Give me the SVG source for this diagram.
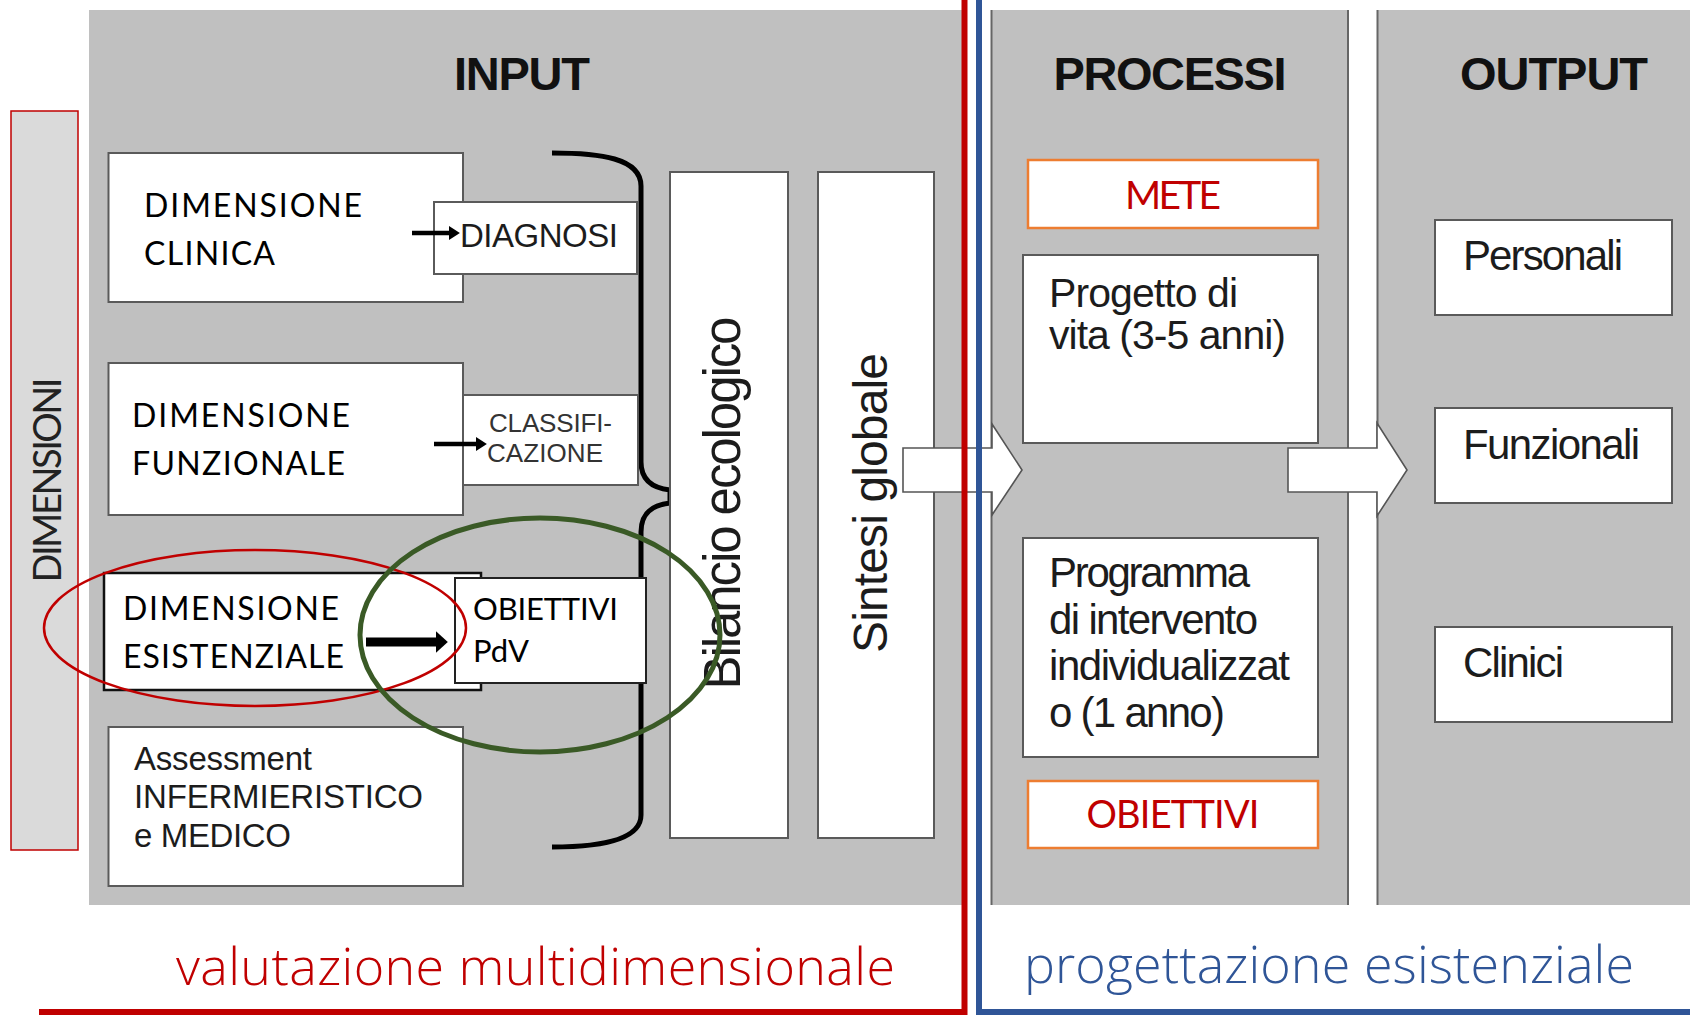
<svg xmlns="http://www.w3.org/2000/svg" width="1690" height="1018" viewBox="0 0 1690 1018">
<defs>
<style>
.panel{fill:#C0C0C0}
.pline{stroke:#666;stroke-width:2;fill:none}
.box{fill:#fff;stroke:#5a5a5a;stroke-width:2}
.obox{fill:#fff;stroke:#ED7D31;stroke-width:2.5}
.cal{font-family:Lato,"Open Sans","DejaVu Sans",sans-serif;fill:#000}
.red{fill:#C00000}
.ar{font-family:"Liberation Sans",Arial,sans-serif;fill:#1c1c1c}
.grey{fill:#333}
.title{font-family:"Liberation Sans",Arial,sans-serif;font-weight:bold;font-size:47px;fill:#111;text-anchor:middle}
.lbl{font-family:"Open Sans","Noto Sans",sans-serif;font-weight:300;font-size:52px}
.big{fill:#fff;stroke:#555;stroke-width:1.6}
</style>
<marker id="ah" viewBox="0 0 10 10" refX="1" refY="5" markerWidth="11" markerHeight="14" markerUnits="userSpaceOnUse" orient="auto" preserveAspectRatio="none"><path d="M0 0L10 5L0 10z" fill="#000"/></marker>
<marker id="ahb" viewBox="0 0 10 10" refX="1" refY="5" markerWidth="12" markerHeight="22" markerUnits="userSpaceOnUse" orient="auto" preserveAspectRatio="none"><path d="M0 0L10 5L0 10z" fill="#000"/></marker>
</defs>
<rect width="1690" height="1018" fill="#fff"/>
<g id="panels">
<rect class="panel" x="89" y="10" width="874" height="895"/>
<rect class="panel" x="991" y="10" width="357" height="895"/>
<rect class="panel" x="1377" y="10" width="313" height="895"/>
<line class="pline" x1="991.5" y1="10" x2="991.5" y2="905"/>
<line class="pline" x1="1348" y1="10" x2="1348" y2="905"/>
<line class="pline" x1="1377.5" y1="10" x2="1377.5" y2="905"/>
<text class="title" x="522" y="90" textLength="136">INPUT</text>
<text class="title" x="1170" y="90" textLength="233">PROCESSI</text>
<text class="title" x="1554" y="90" textLength="188">OUTPUT</text>
</g>
<g id="dimensioni">
<rect x="11" y="111" width="67" height="739" fill="#DADADA" stroke="#C00000" stroke-width="1.5"/>
<text class="cal" transform="translate(61,480) rotate(-90)" text-anchor="middle" font-size="38" textLength="205" style="fill:#222">DIMENSIONI</text>
</g>
<g id="brace">
<path d="M552 153C600 153 641 158 641 186V462C641 480 652 488 670 490V503C652 505 641 513 641 532V815C641 840 600 847 552 847" fill="none" stroke="#000" stroke-width="5"/>
</g>
<g id="dim-clinica">
<rect class="box" x="108.5" y="153" width="354.5" height="149"/>
<text class="cal" x="144" y="217" font-size="32" textLength="218">DIMENSIONE</text>
<text class="cal" x="144" y="265" font-size="32" textLength="131">CLINICA</text>
</g>
<g id="diagnosi">
<rect class="box" x="434" y="202" width="203" height="72"/>
<text class="ar" x="460" y="247" font-size="33" textLength="158">DIAGNOSI</text>
</g>
<g id="dim-funzionale">
<rect class="box" x="108.5" y="363" width="354.5" height="152"/>
<text class="cal" x="132" y="427" font-size="32" textLength="218">DIMENSIONE</text>
<text class="cal" x="132" y="475" font-size="32" textLength="213">FUNZIONALE</text>
</g>
<g id="classificazione">
<rect class="box" x="463" y="395" width="175" height="90"/>
<text class="ar grey" x="489" y="432" font-size="26" textLength="123">CLASSIFI-</text>
<text class="ar grey" x="487" y="462" font-size="26" textLength="116">CAZIONE</text>
</g>
<g id="dim-esistenziale">
<rect x="104" y="573" width="377" height="117" fill="#fff" stroke="#111" stroke-width="2.5"/>
<text class="cal" x="123" y="620" font-size="32" textLength="216">DIMENSIONE</text>
<text class="cal" x="123" y="668" font-size="32" textLength="221">ESISTENZIALE</text>
</g>
<g id="obiettivi-pdv">
<rect x="455" y="578" width="191" height="105" fill="#fff" stroke="#222" stroke-width="2"/>
<text class="cal" x="473" y="620" font-size="31" textLength="145">OBIETTIVI</text>
<text class="cal" x="473" y="662" font-size="31" textLength="56">PdV</text>
</g>
<g id="assessment">
<rect class="box" x="108.5" y="727" width="354.5" height="159"/>
<text class="ar" x="134" y="770" font-size="33" textLength="178">Assessment</text>
<text class="ar" x="134" y="808" font-size="33" textLength="289">INFERMIERISTICO</text>
<text class="ar" x="134" y="847" font-size="33" textLength="157">e MEDICO</text>
</g>
<g id="bilancio">
<rect class="box" x="670" y="172" width="118" height="666"/>
<text class="ar" transform="translate(740,503) rotate(-90)" text-anchor="middle" font-size="51" textLength="373">Bilancio ecologico</text>
</g>
<g id="sintesi">
<rect class="box" x="818" y="172" width="116" height="666"/>
<text class="ar" transform="translate(887,503) rotate(-90)" text-anchor="middle" font-size="48" textLength="300">Sintesi globale</text>
</g>
<g id="mete">
<rect class="obox" x="1028" y="160" width="290" height="68"/>
<text class="cal red" x="1173" y="209" font-size="39" text-anchor="middle" textLength="96">METE</text>
</g>
<g id="progetto">
<rect class="box" x="1023" y="255" width="295" height="188"/>
<text class="ar" x="1049" y="307" font-size="41" textLength="189">Progetto di</text>
<text class="ar" x="1049" y="349" font-size="41" textLength="237">vita (3-5 anni)</text>
</g>
<g id="programma">
<rect class="box" x="1023" y="538" width="295" height="219"/>
<text class="ar" x="1049" y="587" font-size="42" textLength="201">Programma</text>
<text class="ar" x="1049" y="634" font-size="42" textLength="209">di intervento</text>
<text class="ar" x="1049" y="680" font-size="42" textLength="241">individualizzat</text>
<text class="ar" x="1049" y="727" font-size="42" textLength="176">o (1 anno)</text>
</g>
<g id="obiettivi">
<rect class="obox" x="1028" y="781" width="290" height="67"/>
<text class="cal red" x="1173" y="828" font-size="38" text-anchor="middle" textLength="173">OBIETTIVI</text>
</g>
<g id="personali">
<rect class="box" x="1435" y="220" width="237" height="95"/>
<text class="ar" x="1463" y="270" font-size="42" textLength="160">Personali</text>
</g>
<g id="funzionali">
<rect class="box" x="1435" y="408" width="237" height="95"/>
<text class="ar" x="1463" y="459" font-size="42" textLength="177">Funzionali</text>
</g>
<g id="clinici">
<rect class="box" x="1435" y="627" width="237" height="95"/>
<text class="ar" x="1463" y="677" font-size="42" textLength="101">Clinici</text>
</g>
<g id="connectors">
<line x1="412" y1="233" x2="450" y2="233" stroke="#000" stroke-width="4.5" marker-end="url(#ah)"/>
<line x1="434" y1="444" x2="477" y2="444" stroke="#000" stroke-width="4.5" marker-end="url(#ah)"/>
<line x1="366" y1="642" x2="437" y2="642" stroke="#000" stroke-width="9" marker-end="url(#ahb)"/>
<polygon class="big" points="903,448 992,448 992,424 1022,470 992,515 992,492 903,492"/>
<polygon class="big" points="1288,448 1377,448 1377,423 1407,470 1377,516 1377,492 1288,492"/>
</g>
<g id="highlights">
<ellipse cx="255" cy="628" rx="211" ry="78" fill="none" stroke="#C00000" stroke-width="2.5"/>
<ellipse cx="540" cy="635" rx="180" ry="117" fill="none" stroke="#3A5A26" stroke-width="5"/>
</g>
<g id="frames">
<path d="M964.5 0V1012H39" fill="none" stroke="#C00000" stroke-width="6"/>
<path d="M979 0V1012H1690" fill="none" stroke="#2F5597" stroke-width="6"/>
<text class="lbl red" x="176" y="985" textLength="719">valutazione multidimensionale</text>
<text class="lbl" x="1024" y="983" textLength="610" style="fill:#2F5597">progettazione esistenziale</text>
</g>
</svg>
